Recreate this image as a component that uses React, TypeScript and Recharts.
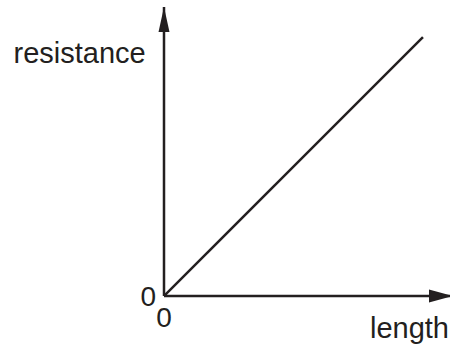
import React from 'react';
import { LineChart, Line, XAxis, YAxis, ReferenceDot, Label } from 'recharts';

// the sketch is a straight proportional line, origin to top right
const lengthValues = [0, 1];
const resistanceValues = [0, 1];
const xTicks = [0];
const yTicks = [0];
const axisMax = 1.116; // where the arrow tips sit

const data = lengthValues.map((len, i) => ({ length: len, resistance: resistanceValues[i] }));

const ink = '#231f20';
const font = '"Liberation Sans", Arial, sans-serif';

const upArrow = (props: any) => {
  const { cx, cy } = props;
  return <polygon points={`${cx},${cy} ${cx - 5.5},${cy + 25} ${cx + 5.5},${cy + 25}`} fill={ink} />;
};

const rightArrow = (props: any) => {
  const { cx, cy } = props;
  return <polygon points={`${cx},${cy} ${cx - 24},${cy - 6.5} ${cx - 24},${cy + 6.5}`} fill={ink} />;
};

const yLabel = (props: any) => {
  const vb = props.viewBox || { x: 0, y: 7, width: 164, height: 289 };
  return (
    <text x={vb.x + 13.5} y={vb.y + 56} fontSize={29} fontFamily={font} fill={ink} textAnchor="start">
      resistance
    </text>
  );
};

const xLabel = (props: any) => {
  const vb = props.viewBox || { x: 164, y: 296, width: 289, height: 51 };
  return (
    <text x={vb.x + vb.width - 4} y={vb.y + 42} fontSize={29} fontFamily={font} fill={ink} textAnchor="end">
      length
    </text>
  );
};

export default function App() {
  return (
    <div style={{ position: 'absolute', left: 0, top: 0, width: 450, height: 347, overflow: 'hidden', background: '#fff' }}>
      <LineChart width={453} height={347} data={data} margin={{ top: 7, right: 0, bottom: 0, left: 0 }}>
        <XAxis
          dataKey="length"
          type="number"
          domain={[0, axisMax]}
          ticks={xTicks}
          height={51}
          tickSize={0}
          tickLine={false}
          tickMargin={11}
          axisLine={{ stroke: ink, strokeWidth: 2.5 }}
          tick={{ fill: ink, fontSize: 28, fontFamily: font }}
          allowDataOverflow
        >
          <Label content={xLabel} />
        </XAxis>
        <YAxis
          type="number"
          domain={[0, axisMax]}
          ticks={yTicks}
          width={164}
          tickSize={0}
          tickLine={false}
          tickMargin={8}
          axisLine={{ stroke: ink, strokeWidth: 2.5 }}
          tick={{ fill: ink, fontSize: 28, fontFamily: font }}
          allowDataOverflow
        >
          <Label content={yLabel} />
        </YAxis>
        <Line
          dataKey="resistance"
          type="linear"
          stroke={ink}
          strokeWidth={2.5}
          dot={false}
          isAnimationActive={false}
        />
        <ReferenceDot x={0} y={axisMax} ifOverflow="visible" shape={upArrow} />
        <ReferenceDot x={axisMax} y={0} ifOverflow="visible" shape={rightArrow} />
      </LineChart>
    </div>
  );
}
